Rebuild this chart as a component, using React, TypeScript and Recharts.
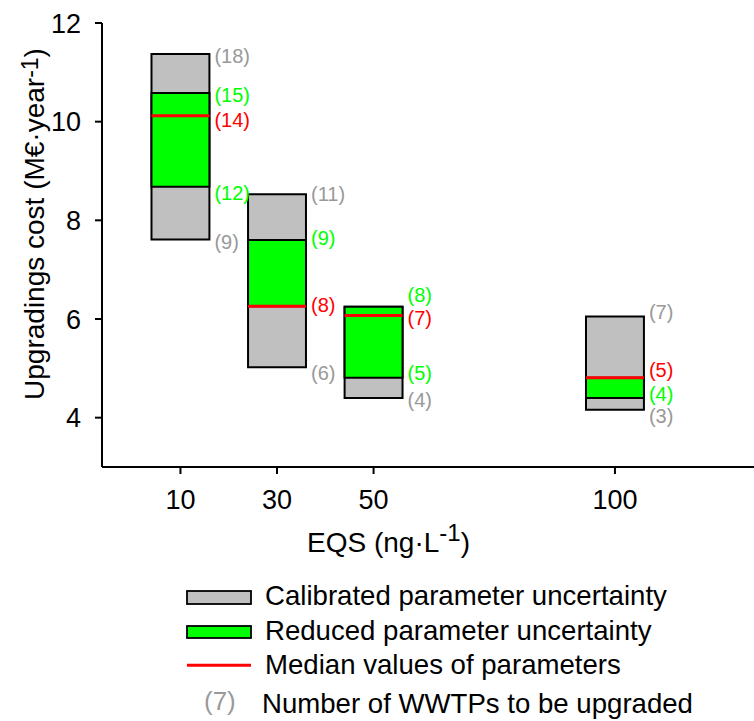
import React from "react";
import {
  ComposedChart,
  XAxis,
  YAxis,
  ReferenceArea,
  ReferenceLine,
  Scatter,
} from "recharts";

// ---- data ----
const eqs = [10, 30, 50, 100];
const calibLow = [7.61, 5.02, 4.4, 4.16];
const calibHigh = [11.37, 8.53, 6.25, 6.05];
const reducedLow = [8.68, 6.26, 4.81, 4.4];
const reducedHigh = [10.58, 7.6, 6.25, 4.81];
const median = [10.12, 6.26, 6.07, 4.81];

// number of WWTPs to be upgraded (null = not shown)
const nCalibHigh = [18, 11, null, 7];
const nReducedHigh = [15, 9, 8, null];
const nMedian = [14, 8, 7, 5];
const nReducedLow = [12, null, 5, 4];
const nCalibLow = [9, 6, 4, 3];

const xTicks = [10, 30, 50, 100];
const yTicks = [4, 6, 8, 10, 12];

// ---- style ----
const FONT = "'Liberation Sans', Arial, Helvetica, sans-serif";
const GRAY = "#c0c0c0";
const GREEN = "#00ff00";
const RED = "#ff0000";
const GRAY_TXT = "#999999";
const BOX_HALF = 6; // half box width in x units

// small vertical nudges (px) for label legibility, per series per category
const nudge: Record<string, number[]> = {
  calibHigh: [2, 0, 0, -5],
  reducedHigh: [2, -2, -12, 0],
  median: [4, -1, 2, -8],
  reducedLow: [6, 0, -5, -4],
  calibLow: [2, 6, 2, 6],
};

type LabelPoint = { x: number; y: number; n: number; dy: number };

function buildLabels(values: number[], counts: (number | null)[], key: string): LabelPoint[] {
  const out: LabelPoint[] = [];
  eqs.forEach((e, i) => {
    const n = counts[i];
    if (n !== null && n !== undefined) {
      out.push({ x: e + BOX_HALF, y: values[i], n, dy: nudge[key][i] });
    }
  });
  return out;
}

const labelSeries = [
  { key: "calibHigh", data: buildLabels(calibHigh, nCalibHigh, "calibHigh"), color: GRAY_TXT },
  { key: "reducedHigh", data: buildLabels(reducedHigh, nReducedHigh, "reducedHigh"), color: GREEN },
  { key: "median", data: buildLabels(median, nMedian, "median"), color: RED },
  { key: "reducedLow", data: buildLabels(reducedLow, nReducedLow, "reducedLow"), color: GREEN },
  { key: "calibLow", data: buildLabels(calibLow, nCalibLow, "calibLow"), color: GRAY_TXT },
];

const makeShape = (color: string) => (props: any) => {
  const { cx, cy, payload } = props;
  if (cx == null || cy == null) return <g />;
  return (
    <text
      x={cx + 5}
      y={cy + payload.dy}
      dy="0.35em"
      fill={color}
      fontSize={20}
      fontFamily={FONT}
    >
      ({payload.n})
    </text>
  );
};

export default function App() {
  return (
    <div style={{ position: "absolute", left: 0, top: 0, width: 754, height: 721, background: "#fff" }}>
      <ComposedChart
        width={754}
        height={721}
        margin={{ top: 23, right: 0, left: 0, bottom: 194 }}
        style={{ fontFamily: FONT }}
      >
        <XAxis
          type="number"
          dataKey="x"
          domain={[-6.25, 128.8]}
          ticks={xTicks}
          allowDataOverflow
          height={60}
          axisLine={{ stroke: "#000", strokeWidth: 2 }}
          tickLine={{ stroke: "#000", strokeWidth: 2 }}
          tickSize={7}
          tickMargin={16}
          tick={{ fill: "#000", fontSize: 27, fontFamily: FONT }}
        />
        <YAxis
          type="number"
          dataKey="y"
          domain={[3, 12]}
          ticks={yTicks}
          allowDataOverflow
          width={102}
          axisLine={{ stroke: "#000", strokeWidth: 2 }}
          tickLine={{ stroke: "#000", strokeWidth: 2 }}
          tickSize={7}
          tickMargin={14}
          tick={{ fill: "#000", fontSize: 27, fontFamily: FONT }}
        />
        {eqs.map((e, i) => (
          <ReferenceArea
            key={"c" + i}
            x1={e - BOX_HALF}
            x2={e + BOX_HALF}
            y1={calibLow[i]}
            y2={calibHigh[i]}
            fill={GRAY}
            fillOpacity={1}
            stroke="#000"
            strokeWidth={2}
          />
        ))}
        {eqs.map((e, i) => (
          <ReferenceArea
            key={"r" + i}
            x1={e - BOX_HALF}
            x2={e + BOX_HALF}
            y1={reducedLow[i]}
            y2={reducedHigh[i]}
            fill={GREEN}
            fillOpacity={1}
            stroke="#000"
            strokeWidth={2}
          />
        ))}
        {eqs.map((e, i) => (
          <ReferenceLine
            key={"m" + i}
            segment={[
              { x: e - BOX_HALF, y: median[i] },
              { x: e + BOX_HALF, y: median[i] },
            ]}
            stroke={RED}
            strokeWidth={3}
          />
        ))}
        {labelSeries.map((s) => (
          <Scatter
            key={s.key}
            data={s.data}
            dataKey="y"
            isAnimationActive={false}
            shape={makeShape(s.color)}
            legendType="none"
          />
        ))}
      </ComposedChart>
      <svg
        width={754}
        height={721}
        style={{ position: "absolute", left: 0, top: 0, pointerEvents: "none" }}
        fontFamily={FONT}
      >
        {/* axis titles */}
        <text x={307} y={552} fontSize={28} fill="#000">
          EQS (ng{"\u00B7"}L
          <tspan dy={-11} fontSize={24}>-1</tspan>
          <tspan dy={11}>)</tspan>
        </text>
        <text transform="translate(44,224) rotate(-90)" textAnchor="middle" fontSize={28} fill="#000">
          Upgradings cost (M€{"\u00B7"}year
          <tspan dy={-6} fontSize={23}>-1</tspan>
          <tspan dy={6}>)</tspan>
        </text>
        {/* legend */}
        <rect x={187} y={591} width={64} height={13} fill={GRAY} stroke="#000" strokeWidth={1.8} />
        <text x={265} y={605.3} fontSize={27.6} fill="#000">Calibrated parameter uncertainty</text>
        <rect x={187} y={626} width={64} height={12} fill={GREEN} stroke="#000" strokeWidth={1.8} />
        <text x={265} y={639.7} fontSize={27.6} fill="#000">Reduced parameter uncertainty</text>
        <line x1={187} x2={251} y1={665.3} y2={665.3} stroke={RED} strokeWidth={3} />
        <text x={265} y={673.7} fontSize={27.6} fill="#000">Median values of parameters</text>
        <text x={204} y={710} fontSize={26} fill={GRAY_TXT}>(7)</text>
        <text x={262} y={713} fontSize={27.6} fill="#000">Number of WWTPs to be upgraded</text>
      </svg>
    </div>
  );
}
